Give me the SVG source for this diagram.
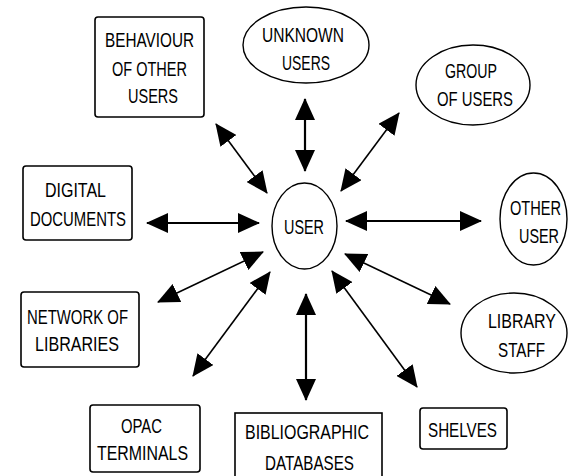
<svg xmlns="http://www.w3.org/2000/svg" width="568" height="476" viewBox="0 0 568 476">
<style>
rect.n{fill:#fff;stroke:#000;stroke-width:1.6}
ellipse.n{fill:#fff;stroke:#000;stroke-width:1.4}
text{font-family:"Liberation Sans","DejaVu Sans",sans-serif;font-size:21px;fill:#000}
line.c{stroke:#000;stroke-width:1.6;marker-start:url(#ah);marker-end:url(#ah)}
line.h{stroke-width:2.2}
</style>
<defs>
<marker id="ah" markerUnits="userSpaceOnUse" markerWidth="22" markerHeight="20" refX="21" refY="10" orient="auto-start-reverse" viewBox="0 0 22 20">
<path d="M0,0 L22,10 L0,20 Z" fill="#000"/>
</marker>
</defs>
<rect width="568" height="476" fill="#fff"/>
<g id="connectors">
<line class="c" x1="216" y1="124" x2="267" y2="193"/>
<line class="c h" x1="305" y1="99" x2="305" y2="171"/>
<line class="c" x1="399" y1="113" x2="341" y2="191"/>
<line class="c h" x1="147" y1="223" x2="259" y2="223"/>
<line class="c h" x1="346" y1="221" x2="481" y2="221"/>
<line class="c" x1="158" y1="302" x2="263" y2="252"/>
<line class="c" x1="193" y1="376" x2="270" y2="272"/>
<line class="c h" x1="306" y1="294" x2="306" y2="400"/>
<line class="c" x1="332" y1="271" x2="417" y2="387"/>
<line class="c" x1="345" y1="254" x2="450" y2="304"/>
</g>
<g id="behaviour">
<rect class="n" x="95" y="17" width="109" height="100" rx="3"/>
<text x="105" y="47" textLength="89" lengthAdjust="spacingAndGlyphs">BEHAVIOUR</text>
<text x="112" y="76" textLength="75" lengthAdjust="spacingAndGlyphs">OF OTHER</text>
<text x="128" y="103" textLength="50" lengthAdjust="spacingAndGlyphs">USERS</text>
</g>
<g id="unknown">
<ellipse class="n" cx="306" cy="45" rx="63" ry="38"/>
<text x="262" y="42" textLength="82" lengthAdjust="spacingAndGlyphs">UNKNOWN</text>
<text x="282" y="70" textLength="48" lengthAdjust="spacingAndGlyphs">USERS</text>
</g>
<g id="group">
<ellipse class="n" cx="473" cy="85" rx="57" ry="40"/>
<text x="445" y="78" textLength="52" lengthAdjust="spacingAndGlyphs">GROUP</text>
<text x="437" y="106" textLength="76" lengthAdjust="spacingAndGlyphs">OF USERS</text>
</g>
<g id="digital">
<rect class="n" x="23" y="166" width="109" height="74" rx="3"/>
<text x="45" y="197" textLength="61" lengthAdjust="spacingAndGlyphs">DIGITAL</text>
<text x="30" y="226" textLength="96" lengthAdjust="spacingAndGlyphs">DOCUMENTS</text>
</g>
<g id="user">
<ellipse class="n" cx="304.5" cy="226" rx="32.5" ry="43"/>
<text x="284" y="234" textLength="40" lengthAdjust="spacingAndGlyphs">USER</text>
</g>
<g id="other">
<ellipse class="n" cx="533.5" cy="219" rx="33.5" ry="46"/>
<text x="510" y="215" textLength="51" lengthAdjust="spacingAndGlyphs">OTHER</text>
<text x="519" y="243" textLength="40" lengthAdjust="spacingAndGlyphs">USER</text>
</g>
<g id="network">
<rect class="n" x="21" y="292" width="118" height="75" rx="3"/>
<text x="27" y="324" textLength="101" lengthAdjust="spacingAndGlyphs">NETWORK OF</text>
<text x="35" y="351" textLength="84" lengthAdjust="spacingAndGlyphs">LIBRARIES</text>
</g>
<g id="staff">
<ellipse class="n" cx="514" cy="333" rx="53" ry="40"/>
<text x="488" y="328" textLength="68" lengthAdjust="spacingAndGlyphs">LIBRARY</text>
<text x="498" y="357" textLength="47" lengthAdjust="spacingAndGlyphs">STAFF</text>
</g>
<g id="opac">
<rect class="n" x="90" y="405" width="110" height="67" rx="3"/>
<text x="121" y="433" textLength="41" lengthAdjust="spacingAndGlyphs">OPAC</text>
<text x="97" y="460" textLength="91" lengthAdjust="spacingAndGlyphs">TERMINALS</text>
</g>
<g id="biblio">
<rect class="n" x="235" y="413" width="147" height="72" rx="0"/>
<text x="245" y="439" textLength="124" lengthAdjust="spacingAndGlyphs">BIBLIOGRAPHIC</text>
<text x="265" y="470" textLength="89" lengthAdjust="spacingAndGlyphs">DATABASES</text>
</g>
<g id="shelves">
<rect class="n" x="420" y="408" width="87" height="41" rx="3"/>
<text x="428" y="437" textLength="69" lengthAdjust="spacingAndGlyphs">SHELVES</text>
</g>
</svg>
